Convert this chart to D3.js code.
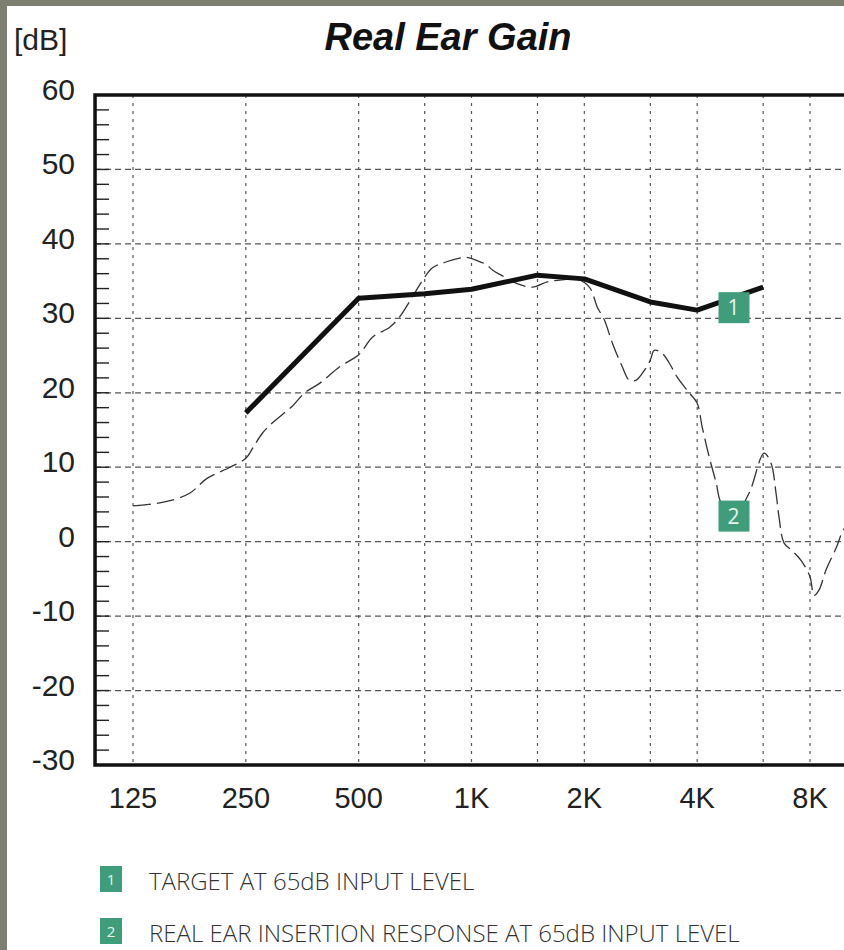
<!DOCTYPE html>
<html>
<head>
<meta charset="utf-8">
<script src="https://cdn.jsdelivr.net/npm/d3@7"></script>
<style>
  body { margin: 0; background: #7d8070; }
  svg { display: block; }
</style>
</head>
<body>
<svg width="844" height="950"></svg>
<script>
// values
var gainTicks = [60, 50, 40, 30, 20, 10, 0, -10, -20, -30];
var freqTicks = [125, 250, 500, 1000, 2000, 4000, 8000];
var freqLabels = ['125', '250', '500', '1K', '2K', '4K', '8K'];
var halfOctaves = [750, 1500, 3000, 6000];

var targetFreq = [250, 500, 750, 1000, 1500, 2000, 3000, 4000, 6000];
var targetGain = [17.3, 32.7, 33.3, 33.9, 35.8, 35.3, 32.2, 31.1, 34.2];

var reirFreq = [125, 147, 157, 177, 197, 227, 250, 261, 277, 295, 334, 359, 394, 445, 500,
  545, 605, 643, 692, 740, 787, 858, 929, 970, 1031, 1096, 1137, 1220, 1318, 1454, 1594,
  1769, 1900, 2062, 2166, 2261, 2375, 2525, 2636, 2752, 2890, 3000, 3072, 3227, 3369, 3538,
  3808, 4000, 4125, 4306, 4495, 4634, 5019, 5500, 6034, 6300, 6494, 6614, 6823, 7165, 7570,
  8000, 8197, 8455, 8826, 9385, 9800, 10300];
var reirGain = [4.8, 5.2, 5.5, 6.5, 8.5, 10, 11.2, 12.6, 14.6, 16, 18.3, 20, 21.3, 23.5, 25.1,
  27.5, 28.8, 30.2, 32.7, 35.1, 36.8, 37.6, 38.1, 38.2, 37.8, 37.2, 36.5, 35.6, 34.7, 34.2, 34.9,
  35.2, 35.3, 34.2, 31.5, 29.8, 26.7, 23.5, 21.7, 21.7, 23, 24.4, 25.7, 25.3, 24, 22.1,
  20, 18.6, 15.4, 11.4, 7.9, 5.2, 3.5, 6.5, 11.9, 10.5, 6.5, 3.3, -0.2, -1.2, -2.5,
  -4.7, -7.2, -6.5, -3.8, -0.9, 1.5, 3];

var legendNames = ['TARGET AT 65dB INPUT LEVEL', 'REAL EAR INSERTION RESPONSE AT 65dB INPUT LEVEL'];

var svg = d3.select('svg');
var green = '#3f9d7b';

// paper
svg.append('rect').attr('x', 7).attr('y', 6).attr('width', 837).attr('height', 944).attr('fill', '#fff');

var xScale = d3.scaleLog().domain([125, 8000]).range([133, 810]);
var yScale = d3.scaleLinear().domain([-30, 60]).range([765, 95]);
var left = xScale(99), right = xScale(11000);

// grid
svg.append('g').selectAll('line').data(gainTicks.slice(1, -1)).enter().append('line')
  .attr('x1', left).attr('x2', right)
  .attr('y1', function(d) { return yScale(d); })
  .attr('y2', function(d) { return yScale(d); })
  .attr('stroke', '#555').attr('stroke-width', 1.2).attr('stroke-dasharray', '6,4');

svg.append('g').selectAll('line').data(freqTicks.concat(halfOctaves)).enter().append('line')
  .attr('x1', function(d) { return xScale(d); })
  .attr('x2', function(d) { return xScale(d); })
  .attr('y1', yScale(60)).attr('y2', yScale(-30))
  .attr('stroke', '#555').attr('stroke-width', 1.2).attr('stroke-dasharray', '3,5');

// minor ticks on the gain axis, every 2 dB
svg.append('g').selectAll('line').data(d3.range(-28, 60, 2)).enter().append('line')
  .attr('x1', left).attr('x2', left + 14)
  .attr('y1', function(d) { return yScale(d); })
  .attr('y2', function(d) { return yScale(d); })
  .attr('stroke', '#222').attr('stroke-width', 1.4);

// frame
svg.append('path')
  .attr('d', 'M' + right + ',' + yScale(60) + 'H' + left + 'V' + yScale(-30) + 'H' + right)
  .attr('fill', 'none').attr('stroke', '#111').attr('stroke-width', 3.5);

// axis labels
svg.append('g').selectAll('text').data(gainTicks).enter().append('text')
  .attr('x', 75).attr('y', function(d) { return yScale(d) + 5; })
  .attr('text-anchor', 'end')
  .style('font', '30px "Liberation Sans", Arial, sans-serif').attr('fill', '#222')
  .text(function(d) { return d; });

svg.append('g').selectAll('text').data(freqTicks).enter().append('text')
  .attr('x', function(d) { return xScale(d); }).attr('y', 808)
  .attr('text-anchor', 'middle')
  .style('font', '29px "Liberation Sans", Arial, sans-serif').attr('fill', '#222')
  .text(function(d, i) { return freqLabels[i]; });

svg.append('text').attr('x', 14).attr('y', 50)
  .style('font', '30px "Liberation Sans", Arial, sans-serif').attr('fill', '#222')
  .text('[dB]');

svg.append('text').attr('x', 448).attr('y', 50).attr('text-anchor', 'middle')
  .style('font', 'italic bold 38px "Liberation Sans", Arial, sans-serif').attr('fill', '#111')
  .text('Real Ear Gain');

// curves
var reir = reirFreq.map(function(f, i) { return [f, reirGain[i]]; });
var target = targetFreq.map(function(f, i) { return [f, targetGain[i]]; });

var line = d3.line()
  .x(function(d) { return xScale(d[0]); })
  .y(function(d) { return yScale(d[1]); });

svg.append('path').datum(reir)
  .attr('d', line.curve(d3.curveCatmullRom))
  .attr('fill', 'none').attr('stroke', '#333').attr('stroke-width', 1.3)
  .attr('stroke-dasharray', '18,6');

svg.append('path').datum(target)
  .attr('d', line.curve(d3.curveLinear))
  .attr('fill', 'none').attr('stroke', '#111').attr('stroke-width', 5)
  .attr('stroke-linejoin', 'round');

// numbered markers on the curves
var markers = [[5000, 31.5, '1'], [5000, 3.5, '2']];
var mk = svg.append('g').selectAll('g').data(markers).enter().append('g')
  .attr('transform', function(d) { return 'translate(' + xScale(d[0]) + ',' + yScale(d[1]) + ')'; });
mk.append('rect').attr('x', -15).attr('y', -15).attr('width', 31).attr('height', 31).attr('fill', green);
mk.append('text').attr('y', 8).attr('text-anchor', 'middle')
  .style('font', '21px "Open Sans", sans-serif').attr('fill', '#e8f4ee')
  .text(function(d) { return d[2]; });

// legend
var lg = svg.append('g').selectAll('g').data(legendNames).enter().append('g')
  .attr('transform', function(d, i) { return 'translate(100,' + (866 + i * 52) + ')'; });
lg.append('rect').attr('width', 22).attr('height', 26).attr('fill', green);
lg.append('text').attr('x', 11).attr('y', 19).attr('text-anchor', 'middle')
  .style('font', '15px "Open Sans", sans-serif').attr('fill', '#e8f4ee')
  .text(function(d, i) { return i + 1; });
lg.append('text').attr('x', 49).attr('y', 24)
  .style('font', '300 24px "Open Sans", sans-serif').attr('fill', '#333')
  .text(function(d) { return d; });
</script>
</body>
</html>
